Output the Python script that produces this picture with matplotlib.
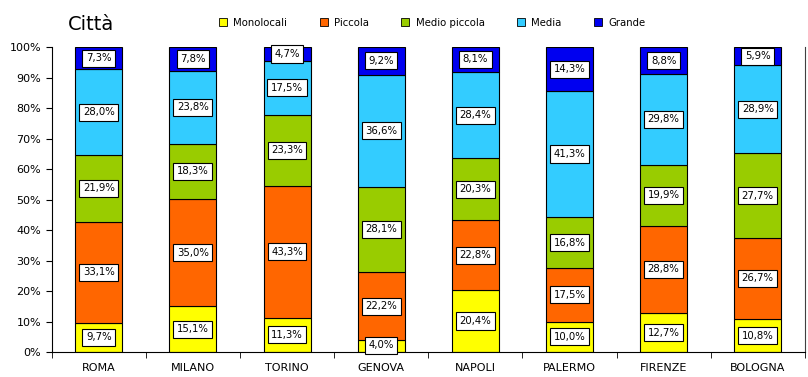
import numpy as np
import matplotlib.pyplot as plt
from matplotlib.patches import Patch

# === Dati ===
citta = ["ROMA", "MILANO", "TORINO", "GENOVA", "NAPOLI", "PALERMO", "FIRENZE", "BOLOGNA"]
serie = ["Monolocali", "Piccola", "Medio piccola", "Media", "Grande"]
monolocali = [9.7, 15.1, 11.3, 4.0, 20.4, 10.0, 12.7, 10.8]
piccola = [33.1, 35.0, 43.3, 22.2, 22.8, 17.5, 28.8, 26.7]
medio_piccola = [21.9, 18.3, 23.3, 28.1, 20.3, 16.8, 19.9, 27.7]
media = [28.0, 23.8, 17.5, 36.6, 28.4, 41.3, 29.8, 28.9]
grande = [7.3, 7.8, 4.7, 9.2, 8.1, 14.3, 8.8, 5.9]
colori = ["#FFFF00", "#FF6600", "#99CC00", "#33CCFF", "#0000F0"]

valori = [monolocali, piccola, medio_piccola, media, grande]

plt.rcParams['font.family'] = ['DejaVu Sans']

fig = plt.figure(figsize=(8.08, 3.77), dpi=100)
ax = fig.add_axes([0.064, 0.066, 0.932, 0.809])

x = np.arange(len(citta))
base = np.zeros(len(citta))
for nome, vals, col in zip(serie, valori, colori):
    vals = np.array(vals)
    ax.bar(x, vals, 0.5, bottom=base, color=col, edgecolor="black", linewidth=0.8, label=nome)
    for xi, b, v in zip(x, base, vals):
        yc = b + v / 2
        if v < 5 and b < 1:
            yc = 2.2
        ax.text(xi, yc, f"{v:.1f}%".replace(".", ","), ha="center", va="center", fontsize=7.3,
                bbox=dict(boxstyle="square,pad=0.35", facecolor="white", edgecolor="black", linewidth=0.8))
    base += vals

ax.set_xlim(-0.5, len(citta) - 0.5)
ax.set_ylim(0, 100)
ax.set_yticks(np.arange(0, 101, 10))
ax.set_yticklabels([f"{t}%" for t in range(0, 101, 10)], fontsize=8)
ax.set_xticks(x)
ax.set_xticklabels(citta, fontsize=8)
ax.tick_params(axis="x", length=0, pad=8)
ax.set_xticks(np.arange(-0.5, len(citta), 1), minor=True)
ax.tick_params(axis="x", which="minor", length=4)
ax.tick_params(axis="y", length=4)
ax.spines["top"].set_visible(False)
ax.spines["right"].set_color("#404040")

fig.text(0.084, 0.935, "Città", fontsize=14, ha="left", va="center")

handles = [Patch(facecolor=c, edgecolor="black", linewidth=0.6) for c in colori]
fig.legend(handles, serie, loc="center", bbox_to_anchor=(0.535, 0.94), ncol=5, frameon=False,
           fontsize=7.3, handlelength=0.8, handleheight=0.8, columnspacing=3.2, handletextpad=0.6)

plt.savefig("out.png", dpi=100)
